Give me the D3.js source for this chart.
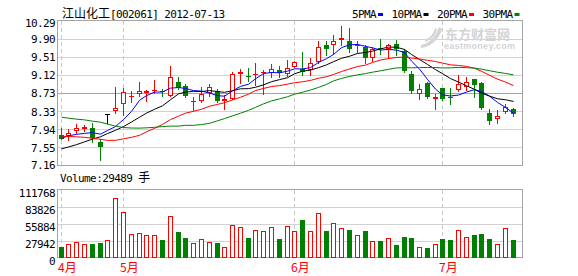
<!DOCTYPE html>
<html>
<head>
<meta charset="utf-8">
<title>江山化工 002061</title>
<script src="https://cdn.jsdelivr.net/npm/d3@7"></script>
<style>
  html, body { margin: 0; padding: 0; background: #fff; }
  #kline svg { display: block; }
  .num { font-family: "DejaVu Sans Mono", monospace; font-size: 11px; letter-spacing: -0.6px; fill: #000; }
  .cjk { font-family: "Noto Sans CJK SC", sans-serif; font-size: 12px; }
</style>
</head>
<body>
<div id="kline"></div>
<script>
// daily candles 2012-04-18 .. 2012-07-13
const stockName = "江山化工";
const stockInfo = "[002061] 2012-07-13";

const openPrices = [7.82, 7.79, 7.91, 7.95, 7.97, 7.67, 8.27, 8.33, 8.49, 8.64,
  8.71, 8.73, 8.76, 8.77, 8.66, 8.96, 8.88, 8.55, 8.56, 8.73,
  8.76, 8.56, 8.60, 9.14, 9.10, 9.12, 9.15, 9.15, 9.22, 9.14,
  9.29, 9.24, 9.22, 9.40, 9.76, 9.77, 9.86, 9.84, 9.75, 9.71,
  9.47, 9.69, 9.67, 9.78, 9.64, 9.14, 8.71, 8.95, 8.59, 8.83,
  8.64, 8.78, 8.85, 9.02, 8.95, 8.29, 8.17, 8.32, 8.38];
const highPrices = [7.97, 7.95, 8.06, 8.03, 8.07, 7.74, 8.27, 8.85, 8.83, 8.76,
  8.96, 8.78, 9.01, 8.82, 9.31, 9.07, 8.92, 8.64, 8.85, 8.92,
  8.81, 8.68, 9.17, 9.25, 9.26, 9.38, 9.22, 9.35, 9.30, 9.44,
  9.42, 9.61, 9.47, 9.84, 9.84, 9.98, 10.17, 10.12, 9.84, 9.76,
  9.71, 9.90, 9.78, 9.87, 9.68, 9.21, 8.92, 8.96, 8.71, 8.83,
  8.83, 9.12, 9.07, 9.02, 8.96, 8.38, 8.36, 8.49, 8.40];
const lowPrices = [7.73, 7.70, 7.87, 7.91, 7.66, 7.27, 8.07, 8.30, 8.25, 8.52,
  8.65, 8.56, 8.73, 8.66, 8.65, 8.81, 8.64, 8.35, 8.52, 8.65,
  8.54, 8.39, 8.59, 8.94, 8.99, 8.89, 8.71, 9.08, 9.08, 9.10,
  9.28, 9.12, 9.12, 9.37, 9.55, 9.57, 9.76, 9.61, 9.61, 9.37,
  9.42, 9.57, 9.47, 9.55, 9.18, 8.73, 8.60, 8.62, 8.39, 8.58,
  8.49, 8.76, 8.78, 8.64, 8.39, 8.06, 8.07, 8.29, 8.22];
const closePrices = [7.74, 7.87, 7.97, 8.00, 7.76, 7.57, 8.27, 8.40, 8.75, 8.65,
  8.77, 8.76, 8.79, 8.76, 9.07, 8.84, 8.66, 8.56, 8.71, 8.85,
  8.56, 8.60, 9.14, 9.18, 9.09, 9.14, 9.18, 9.24, 9.15, 9.27,
  9.40, 9.17, 9.38, 9.71, 9.68, 9.84, 9.91, 9.68, 9.76, 9.47,
  9.68, 9.67, 9.76, 9.68, 9.21, 8.76, 8.81, 8.64, 8.64, 8.59,
  8.63, 8.91, 8.96, 8.89, 8.40, 8.12, 8.23, 8.42, 8.27];
const volumes = [16900, 21900, 25200, 21900, 21900, 24000, 28500, 97500, 74500, 38300,
  40000, 36700, 36700, 28500, 67900, 42000, 32300, 23500, 30000, 25200,
  24000, 17000, 53000, 49800, 31700, 44900, 43200, 49800, 30000, 51400,
  43200, 61300, 43200, 72800, 43200, 56400, 48200, 44900, 36700, 43200,
  26800, 26800, 31700, 20200, 33400, 31700, 17000, 15300, 21900, 30000,
  28500, 44900, 33400, 36700, 38300, 30000, 21900, 48200, 29489];

const ma5 = [7.747, 7.801, 7.833, 7.854, 7.870, 7.836, 7.915, 8.001, 8.151, 8.328,
  8.568, 8.667, 8.745, 8.747, 8.830, 8.843, 8.823, 8.777, 8.766, 8.723,
  8.668, 8.656, 8.772, 8.867, 8.914, 9.031, 9.146, 9.167, 9.161, 9.196,
  9.247, 9.244, 9.272, 9.384, 9.467, 9.556, 9.704, 9.765, 9.774, 9.731,
  9.700, 9.652, 9.667, 9.651, 9.600, 9.414, 9.242, 9.018, 8.809, 8.685,
  8.660, 8.680, 8.745, 8.797, 8.759, 8.657, 8.522, 8.413, 8.289];
const ma10 = [7.52, 7.56, 7.61, 7.67, 7.73, 7.78, 7.85, 7.92, 8.00, 8.099,
  8.202, 8.291, 8.373, 8.449, 8.579, 8.706, 8.745, 8.761, 8.756, 8.777,
  8.756, 8.740, 8.774, 8.816, 8.819, 8.849, 8.901, 8.969, 9.014, 9.055,
  9.139, 9.195, 9.219, 9.272, 9.332, 9.401, 9.474, 9.518, 9.579, 9.599,
  9.628, 9.678, 9.716, 9.713, 9.665, 9.557, 9.447, 9.342, 9.230, 9.142,
  9.037, 8.961, 8.882, 8.803, 8.722, 8.658, 8.601, 8.579, 8.543];
const ma20 = [7.790, 7.785, 7.779, 7.768, 7.747, 7.725, 7.703, 7.703, 7.736, 7.768,
  7.811, 7.887, 7.962, 8.048, 8.150, 8.225, 8.290, 8.330, 8.375, 8.438,
  8.479, 8.515, 8.574, 8.633, 8.699, 8.778, 8.823, 8.865, 8.885, 8.916,
  8.947, 8.967, 8.997, 9.044, 9.075, 9.125, 9.188, 9.244, 9.296, 9.327,
  9.383, 9.437, 9.468, 9.493, 9.499, 9.479, 9.461, 9.430, 9.405, 9.371,
  9.333, 9.320, 9.299, 9.258, 9.194, 9.108, 9.024, 8.961, 8.886];
const ma30 = [8.203, 8.182, 8.160, 8.145, 8.117, 8.096, 8.053, 8.010, 7.980, 7.969,
  7.967, 7.973, 7.984, 8.001, 8.010, 8.010, 8.027, 8.027, 8.044, 8.070,
  8.124, 8.173, 8.231, 8.289, 8.350, 8.415, 8.490, 8.554, 8.598, 8.644,
  8.699, 8.742, 8.789, 8.846, 8.910, 8.986, 9.040, 9.083, 9.116, 9.144,
  9.174, 9.204, 9.236, 9.267, 9.272, 9.269, 9.274, 9.277, 9.274, 9.266,
  9.268, 9.278, 9.272, 9.263, 9.240, 9.206, 9.174, 9.147, 9.117];

const maNames = ["5PMA", "10PMA", "20PMA", "30PMA"];
const maColors = ["#0000ff", "#000000", "#ff0000", "#008000"];
const priceTicks = [7.16, 7.55, 7.94, 8.33, 8.73, 9.12, 9.51, 9.90, 10.29];
const volumeTicks = [0, 27942, 55884, 83826, 111768];
const monthLabels = ["4月", "5月", "6月", "7月"];
const monthStarts = [0, 8, 30, 49];
const volumeUnit = "手";

const UP = "#ff0000", DOWN = "#008000", FLAT = "#000000";
const n = closePrices.length;

const kline = document.getElementById('kline');
const svg = d3.select(kline).append('svg')
    .attr('width', 578)
    .attr('height', 276);

const frameL = 57.5, frameR = 522.5;
const priceTop = 20.5, priceBottom = 165.5;
const volTop = 189.5, volBottom = 257.5;

const x = d3.scaleBand()
    .domain(d3.range(n))
    .range([57.3, 517])
    .paddingInner(0.36)
    .paddingOuter(0.18);
const barLeft = i => Math.round(x(i));
const cx = i => barLeft(i) + 2.5;
const snap = v => Math.round(v) + 0.5;

const yPrice = d3.scaleLinear()
    .domain([priceTicks[0], priceTicks[priceTicks.length - 1]])
    .range([priceBottom, priceTop]);
const yVol = d3.scaleLinear()
    .domain([0, volumeTicks[volumeTicks.length - 1]])
    .range([volBottom, volTop]);

const colorOf = i => closePrices[i] > openPrices[i] ? UP : (closePrices[i] < openPrices[i] ? DOWN : FLAT);

// grid
const grid = svg.append('g').attr('shape-rendering', 'crispEdges');
grid.selectAll('line.pg')
    .data(priceTicks.slice(1, -1))
    .join('line')
    .attr('x1', frameL).attr('x2', frameR)
    .attr('y1', d => snap(yPrice(d))).attr('y2', d => snap(yPrice(d)))
    .attr('stroke', (d, i) => i === 3 ? '#a4a4a4' : '#d2d2d2');
grid.selectAll('line.vg')
    .data(volumeTicks.slice(1, -1))
    .join('line')
    .attr('x1', frameL).attr('x2', frameR)
    .attr('y1', d => snap(yVol(d))).attr('y2', d => snap(yVol(d)))
    .attr('stroke', '#d2d2d2');

// month separators
[[priceTop, priceBottom], [volTop, volBottom]].forEach(([t, b]) => {
    grid.append('g').selectAll('line')
        .data(monthStarts)
        .join('line')
        .attr('x1', d => snap(cx(d) - 0.5)).attr('x2', d => snap(cx(d) - 0.5))
        .attr('y1', t).attr('y2', b)
        .attr('stroke', '#c8c8c8')
        .attr('stroke-dasharray', '4,3');
});

// watermark
const wm = svg.append('g').attr('fill', '#d4d4d4');
wm.append('path')
    .attr('d', 'M421,45 C428,44 436,37 439,27 L442,29 C439,40 430,47 421,48 Z M425,40 C430,38 434,33 435,28 L437,29 C436,35 431,40 425,42 Z');
wm.append('text')
    .attr('x', 445).attr('y', 38.5)
    .attr('font-family', '"Noto Sans CJK SC", sans-serif')
    .attr('font-size', 13).attr('font-weight', 'bold')
    .text('东方财富网');
wm.append('text')
    .attr('x', 444).attr('y', 48.5)
    .attr('font-family', '"Liberation Sans", sans-serif')
    .attr('font-size', 9).attr('font-weight', 'bold')
    .attr('letter-spacing', 0.3)
    .text('eastmoney.com');

// frames
const frame = svg.append('g').attr('fill', 'none').attr('stroke', '#a4a4a4').attr('shape-rendering', 'crispEdges');
frame.append('rect').attr('x', frameL).attr('y', priceTop).attr('width', frameR - frameL).attr('height', priceBottom - priceTop);
frame.append('rect').attr('x', frameL).attr('y', volTop).attr('width', frameR - frameL).attr('height', volBottom - volTop);

// candles
const candles = svg.append('g').attr('shape-rendering', 'crispEdges');
const idx = d3.range(n);
candles.selectAll('line.wick')
    .data(idx)
    .join('line')
    .attr('x1', cx).attr('x2', cx)
    .attr('y1', i => Math.round(yPrice(highPrices[i])))
    .attr('y2', i => Math.round(yPrice(lowPrices[i])) + 1)
    .attr('stroke', colorOf);

candles.selectAll('rect.body')
    .data(idx)
    .join('rect')
    .each(function (i) {
        const el = d3.select(this);
        const yo = Math.round(yPrice(openPrices[i]));
        const yc = Math.round(yPrice(closePrices[i]));
        if (closePrices[i] > openPrices[i] && yo - yc >= 2) {
            el.attr('x', barLeft(i) + 0.5).attr('y', yc + 0.5)
              .attr('width', 4).attr('height', yo - yc - 1)
              .attr('fill', '#fff').attr('stroke', UP);
        } else if (closePrices[i] < openPrices[i] && yc - yo >= 2) {
            el.attr('x', barLeft(i)).attr('y', yo)
              .attr('width', 5).attr('height', yc - yo)
              .attr('fill', DOWN);
        } else {
            // near-doji: a flat bar
            el.attr('x', barLeft(i)).attr('y', Math.min(yo, yc))
              .attr('width', 5).attr('height', Math.max(1, Math.abs(yo - yc)))
              .attr('fill', colorOf(i));
        }
    });

// moving averages
const maSeries = [ma5, ma10, ma20, ma30];
const maLine = d3.line()
    .x((d, i) => cx(i))
    .y(d => yPrice(d));
svg.append('g').attr('fill', 'none').attr('stroke-width', 1)
    .selectAll('path')
    .data(maSeries)
    .join('path')
    .attr('d', maLine)
    .attr('stroke', (d, i) => maColors[i]);

// volume bars
const vbars = svg.append('g').attr('shape-rendering', 'crispEdges');
vbars.selectAll('rect')
    .data(idx)
    .join('rect')
    .each(function (i) {
        const el = d3.select(this);
        const top = Math.round(yVol(volumes[i]));
        if (closePrices[i] >= openPrices[i]) {
            el.attr('x', barLeft(i) + 0.5).attr('y', top + 0.5)
              .attr('width', 4).attr('height', volBottom - top - 1)
              .attr('fill', '#fff').attr('stroke', UP);
        } else {
            el.attr('x', barLeft(i)).attr('y', top)
              .attr('width', 5).attr('height', volBottom - top)
              .attr('fill', DOWN);
        }
    });

// y labels
const priceAxis = svg.append('g')
    .attr('transform', `translate(${frameL},0)`)
    .call(d3.axisLeft(yPrice).tickValues(priceTicks).tickFormat(d3.format('.2f')).tickSize(0).tickPadding(2.5));
priceAxis.attr('font-family', null).attr('font-size', null);
priceAxis.select('.domain').remove();
priceAxis.selectAll('.tick text')
    .attr('class', 'num')
    .attr('dy', null)
    .attr('y', d => Math.min(Math.max(yPrice(d), 22.5), 164) - yPrice(d) + 4);

const volAxis = svg.append('g')
    .attr('transform', `translate(${frameL},0)`)
    .call(d3.axisLeft(yVol).tickValues(volumeTicks).tickFormat(d3.format('d')).tickSize(0).tickPadding(2.5));
volAxis.attr('font-family', null).attr('font-size', null);
volAxis.select('.domain').remove();
volAxis.selectAll('.tick text')
    .attr('class', 'num')
    .attr('dy', null)
    .attr('y', 6.5);

// month labels
svg.append('g').selectAll('text')
    .data(monthStarts)
    .join('text')
    .attr('class', 'cjk')
    .attr('x', d => cx(d) - 3.5)
    .attr('y', 271.5)
    .attr('fill', '#ff0000')
    .text((d, i) => monthLabels[i]);

// title
const title = svg.append('text').attr('x', 62).attr('y', 18);
title.append('tspan').attr('class', 'cjk').text(stockName);
title.append('tspan').attr('class', 'num').text(stockInfo);

// legend
const legend = svg.append('g');
let lx = 352;
maNames.forEach((name, i) => {
    legend.append('text').attr('class', 'num').attr('x', lx).attr('y', 18).text(name);
    const w = name.length * 6;
    legend.append('rect')
        .attr('x', lx + w + 2).attr('y', 13)
        .attr('width', 5).attr('height', 3)
        .attr('fill', maColors[i]);
    lx += w + 2 + 5 + 8.5;
});

// volume caption
const vcap = svg.append('text').attr('x', 60).attr('y', 181.5);
vcap.append('tspan').attr('class', 'num').text('Volume:' + volumes[n - 1] + ' ');
vcap.append('tspan').attr('class', 'cjk').text(volumeUnit);
</script>
</body>
</html>
